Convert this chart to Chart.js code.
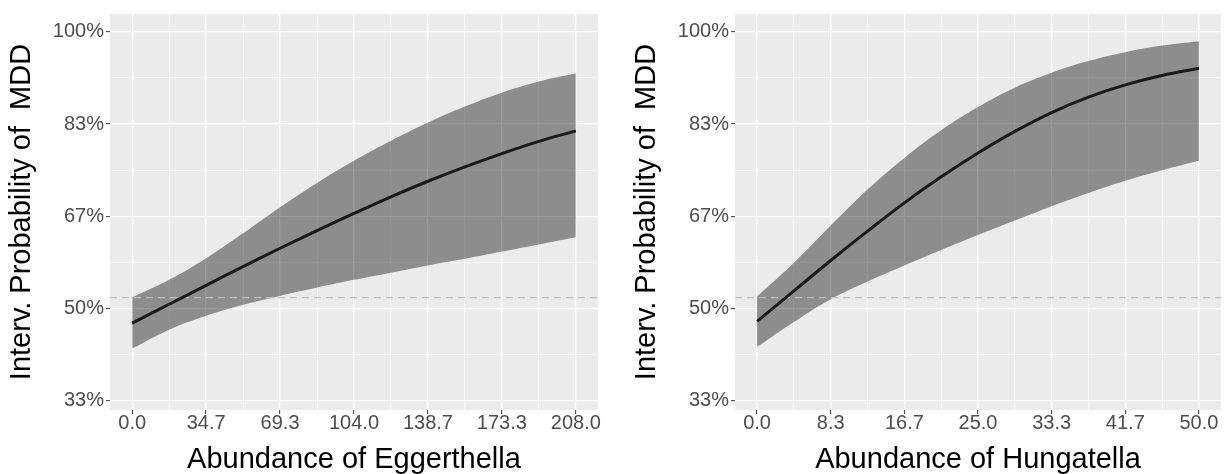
<!DOCTYPE html>
<html lang="en">
<head>
<meta charset="UTF-8" />
<title>Interventional probability of MDD</title>
<script src="https://cdn.jsdelivr.net/npm/chart.js"></script>
<style>
  body { margin: 0; background: #fff; }
  .panel { position: absolute; top: 0; height: 474px; }
  #left { left: 0; width: 612px; }
  #right { left: 625px; width: 600px; }
</style>
</head>
<body>
<div class="panel" id="left"><canvas id="eggChart"></canvas></div>
<div class="panel" id="right"><canvas id="hunChart"></canvas></div>
<script>
// Eggerthella panel
const eggX = [0, 17.33, 34.67, 52, 69.33, 86.67, 104, 121.33, 138.67, 156, 173.33, 190.67, 208];
const eggMean = [47.4, 50.8, 54.2, 57.6, 60.9, 64.1, 67.2, 70.2, 73.0, 75.6, 78.0, 80.2, 82.1];
const eggUpper = [52.0, 55.2, 59.1, 63.6, 68.3, 72.7, 76.7, 80.3, 83.6, 86.5, 89.0, 91.0, 92.5];
const eggLower = [42.8, 46.2, 48.7, 50.7, 52.3, 53.8, 55.2, 56.5, 57.8, 59.0, 60.3, 61.6, 62.9];
const eggTicks = [0, 34.67, 69.33, 104, 138.67, 173.33, 208];
const eggTickLabels = ['0.0', '34.7', '69.3', '104.0', '138.7', '173.3', '208.0'];

// Hungatella panel
const hunX = [0, 4.17, 8.33, 12.5, 16.67, 20.83, 25, 29.17, 33.33, 37.5, 41.67, 45.83, 50];
const hunMean = [47.7, 53.2, 58.7, 64.0, 69.1, 73.8, 78.1, 82.0, 85.4, 88.2, 90.4, 92.1, 93.4];
const hunUpper = [52.2, 58.3, 65.0, 71.5, 77.2, 82.2, 86.4, 89.9, 92.6, 94.7, 96.3, 97.5, 98.3];
const hunLower = [43.1, 47.6, 51.7, 54.9, 57.8, 60.6, 63.3, 65.9, 68.5, 70.9, 73.1, 75.0, 76.7];
const hunTicks = [0, 8.33, 16.67, 25, 33.33, 41.67, 50];
const hunTickLabels = ['0.0', '8.3', '16.7', '25.0', '33.3', '41.7', '50.0'];

// shared y axis
const yTicks = [33.33, 50, 66.67, 83.33, 100];
const yTickLabels = ['33%', '50%', '67%', '83%', '100%'];
const refLine = 52.0;

const FONT = "'Liberation Sans', Arial, sans-serif";

const panelBg = {
  id: 'panelBg',
  beforeDraw(chart) {
    const { ctx, chartArea: a } = chart;
    ctx.save();
    ctx.fillStyle = '#EBEBEB';
    ctx.fillRect(a.left, a.top, a.right - a.left, a.bottom - a.top);
    ctx.restore();
  }
};

// major ticks plus ggplot-style minor ticks halfway between them
function withMinor(major) {
  const out = [];
  major.forEach((v, i) => {
    out.push({ value: v, minor: false });
    if (i < major.length - 1) out.push({ value: (v + major[i + 1]) / 2, minor: true });
  });
  return out;
}

function gridOpts() {
  return {
    color: '#FFFFFF',
    lineWidth: c => (c.tick && c.tick.minor ? 0.6 : 1.3),
    tickColor: c => (c.tick && c.tick.minor ? 'rgba(0,0,0,0)' : '#333333'),
    tickLength: 4,
    tickWidth: 1,
    drawTicks: true
  };
}

function makePanel(id, xs, mean, upper, lower, ticks, labels, xMin, xMax, title, padRight) {
  const pts = arr => arr.map((y, i) => ({ x: xs[i], y: y }));
  new Chart(document.getElementById(id), {
    type: 'line',
    data: {
      datasets: [
        {
          data: pts(mean),
          borderColor: '#1a1a1a',
          borderWidth: 3,
          pointRadius: 0,
          tension: 0.4,
          fill: false
        },
        {
          data: [{ x: xMin, y: refLine }, { x: xMax, y: refLine }],
          borderColor: '#BEBEBE',
          borderWidth: 1.3,
          borderDash: [7, 5],
          pointRadius: 0,
          fill: false
        },
        {
          data: pts(upper),
          borderWidth: 0,
          borderColor: 'rgba(0,0,0,0)',
          backgroundColor: 'rgba(0,0,0,0.4)',
          pointRadius: 0,
          tension: 0.4,
          fill: '+1'
        },
        {
          data: pts(lower),
          borderWidth: 0,
          borderColor: 'rgba(0,0,0,0)',
          pointRadius: 0,
          tension: 0.4,
          fill: false
        }
      ]
    },
    options: {
      responsive: true,
      maintainAspectRatio: false,
      animation: false,
      layout: { padding: { top: 11, right: padRight, left: 0, bottom: 0 } },
      plugins: { legend: { display: false }, tooltip: { enabled: false } },
      scales: {
        x: {
          type: 'linear',
          min: xMin,
          max: xMax,
          border: { display: false },
          grid: gridOpts(),
          afterBuildTicks: s => { s.ticks = withMinor(ticks); },
          afterFit: s => { s.height = 64; },
          ticks: {
            autoSkip: false,
            maxRotation: 0,
            padding: -3,
            color: '#4D4D4D',
            font: { family: FONT, size: 20 },
            callback: v => {
              const i = ticks.indexOf(v);
              return i >= 0 ? labels[i] : '';
            }
          },
          title: {
            display: true,
            text: title,
            color: '#000000',
            padding: { top: 0, bottom: 0 },
            font: { family: FONT, size: 29, lineHeight: 1 }
          }
        },
        y: {
          type: 'linear',
          min: 31.7,
          max: 103.2,
          border: { display: false },
          grid: gridOpts(),
          afterBuildTicks: s => { s.ticks = withMinor(yTicks); },
          afterFit: s => { s.width = 110; },
          ticks: {
            autoSkip: false,
            padding: 2,
            color: '#4D4D4D',
            font: { family: FONT, size: 20 },
            callback: v => {
              const i = yTicks.indexOf(v);
              return i >= 0 ? yTickLabels[i] : '';
            }
          },
          title: {
            display: true,
            text: 'Interv. Probability of  MDD',
            color: '#000000',
            padding: { top: 5, bottom: 0 },
            font: { family: FONT, size: 29 }
          }
        }
      }
    },
    plugins: [panelBg]
  });
}

makePanel('eggChart', eggX, eggMean, eggUpper, eggLower, eggTicks, eggTickLabels,
  -10.4, 218.4, 'Abundance of Eggerthella', 14);
makePanel('hunChart', hunX, hunMean, hunUpper, hunLower, hunTicks, hunTickLabels,
  -2.5, 52.5, 'Abundance of Hungatella', 4);
</script>
</body>
</html>
